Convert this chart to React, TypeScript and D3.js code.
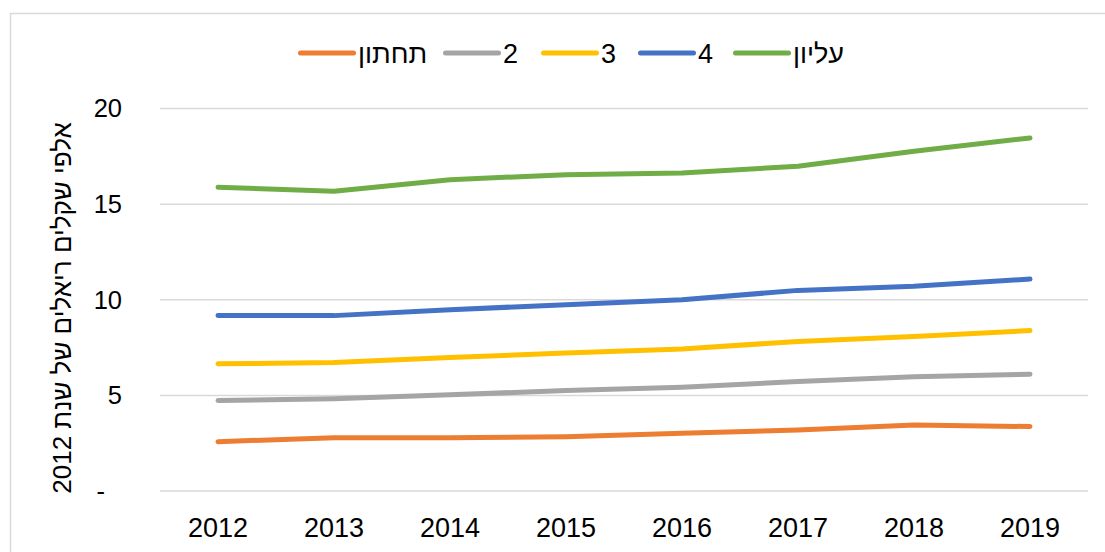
import * as d3 from "d3";

const years = ["2012", "2013", "2014", "2015", "2016", "2017", "2018", "2019"];
const seriesNames = ["תחתון", "2", "3", "4", "עליון"];
const seriesColors = ["#ED7D31", "#A5A5A5", "#FFC000", "#4472C4", "#70AD47"];

const bottomValues = [2.58, 2.79, 2.79, 2.84, 3.02, 3.19, 3.45, 3.37];
const secondValues = [4.73, 4.82, 5.03, 5.25, 5.43, 5.72, 5.98, 6.11];
const thirdValues = [6.65, 6.72, 6.98, 7.21, 7.43, 7.82, 8.08, 8.39];
const fourthValues = [9.18, 9.17, 9.48, 9.74, 10.0, 10.49, 10.7, 11.08];
const topValues = [15.88, 15.67, 16.28, 16.54, 16.63, 16.98, 17.76, 18.46];

const allSeries = [bottomValues, secondValues, thirdValues, fourthValues, topValues];
const yTicks = [0, 5, 10, 15, 20];
const yLabel = "אלפי שקלים ריאלים של שנת 2012";

const W = 1105;
const H = 552;
const font = "'Liberation Sans', Arial, sans-serif";

export default function App() {
  const x = d3.scalePoint<string>().domain(years).range([218, 1030]);
  const y = d3.scaleLinear().domain([0, 20]).range([491, 108.5]);

  const line = d3
    .line<number>()
    .x((_, i) => x(years[i]) as number)
    .y((d) => y(d));

  // where each legend entry starts
  const legendX = [298, 443, 541, 638, 733];

  return (
    <svg
      width={W}
      height={H}
      style={{ position: "absolute", left: 0, top: 0, background: "#fff" }}
      fontFamily={font}
    >
      <rect x={10.5} y={13.5} width={W} height={H} fill="#fff" stroke="#D9D9D9" strokeWidth={1.5} />

      {yTicks.map((t) => (
        <line key={t} x1={160} x2={1088} y1={y(t)} y2={y(t)} stroke="#D9D9D9" strokeWidth={1.5} />
      ))}

      {yTicks.map((t) => (
        <text key={t} x={t === 0 ? 105 : 122} y={y(t)} dy="0.35em" textAnchor="end" fontSize={25.5} fill="#000">
          {t === 0 ? "-" : t}
        </text>
      ))}

      {years.map((yr) => (
        <text key={yr} x={x(yr)} y={537} textAnchor="middle" fontSize={27} fill="#000">
          {yr}
        </text>
      ))}

      <text
        transform="translate(62,308) rotate(-90)"
        textAnchor="middle"
        direction="rtl"
        dy="0.35em"
        fontSize={26}
        fill="#000"
      >
        {yLabel}
      </text>

      {allSeries.map((s, i) => (
        <path
          key={i}
          d={line(s) ?? ""}
          fill="none"
          stroke={seriesColors[i]}
          strokeWidth={5}
          strokeLinecap="round"
          strokeLinejoin="round"
        />
      ))}

      {seriesNames.map((name, i) => (
        <g key={name} transform={`translate(${legendX[i]},53)`}>
          <line x1={2.5} x2={55.5} y1={0} y2={0} stroke={seriesColors[i]} strokeWidth={5} strokeLinecap="round" />
          <text x={60} y={9.7} fontSize={27} fill="#000">
            {name}
          </text>
        </g>
      ))}
    </svg>
  );
}
